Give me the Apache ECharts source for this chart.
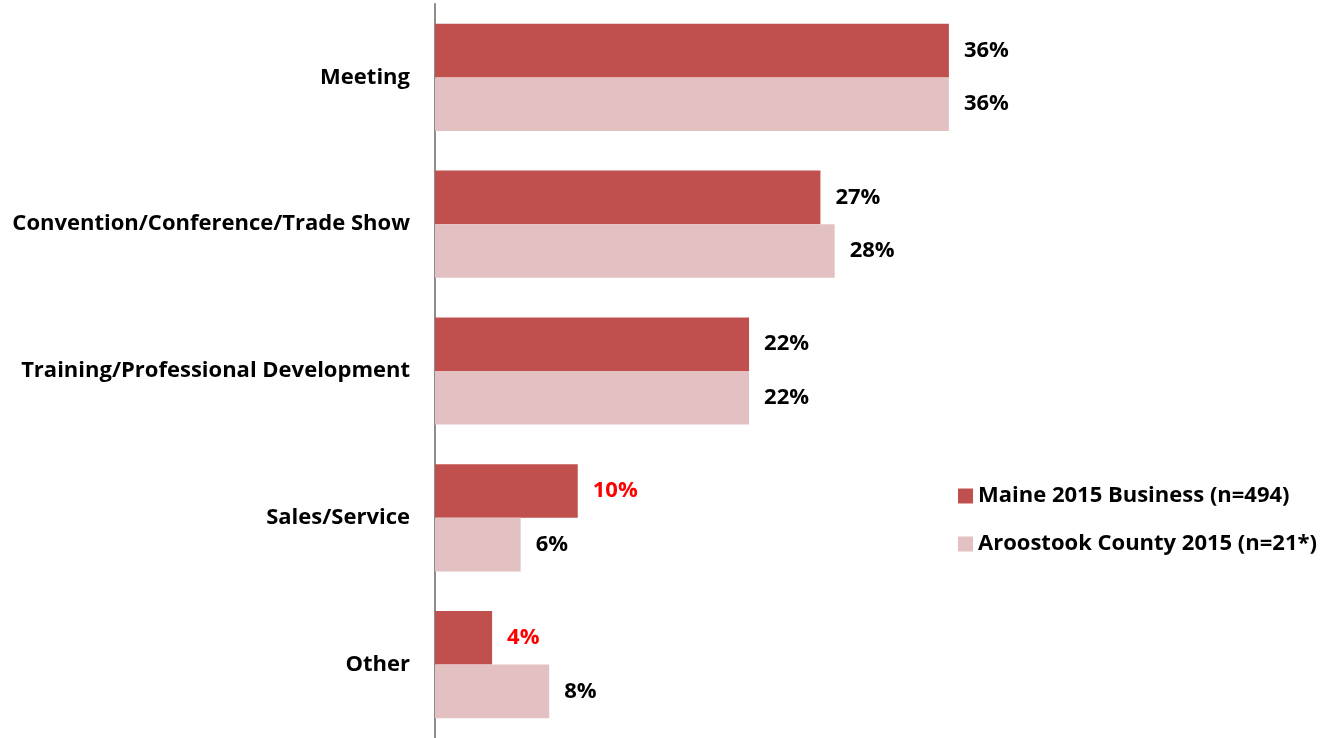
<!DOCTYPE html>
<html>
<head>
<meta charset="utf-8">
<script src="https://cdn.jsdelivr.net/npm/echarts@6/dist/echarts.min.js"></script>
<style>
  html, body { margin: 0; padding: 0; background: #fff; }
  #chart { width: 1325px; height: 738px; }
</style>
</head>
<body>
<div id="chart"></div>
<script>
// data
var categories = ['Meeting', 'Convention/Conference/Trade Show', 'Training/Professional Development', 'Sales/Service', 'Other'];
var maine = [36, 27, 22, 10, 4];
var aroostook = [36, 28, 22, 6, 8];
// Maine values flagged red in the original (significant difference)
var flagged = [3, 4];

var FONT = 'Open Sans';
var chart = echarts.init(document.getElementById('chart'));

var maineData = maine.map(function (v, i) {
    if (flagged.indexOf(i) >= 0) {
        return { value: v, label: { color: '#ff0000' } };
    }
    return v;
});

var valueLabel = {
    show: true, position: 'right', distance: 15,
    formatter: '{c}%', fontSize: 22, fontWeight: 'bold', color: '#000', fontFamily: FONT
};

chart.setOption({
    animation: false,
    textStyle: { fontFamily: FONT },
    legend: {
        orient: 'vertical',
        left: 953,
        top: 480,
        itemWidth: 15,
        itemHeight: 15,
        itemGap: 26,
        icon: 'rect',
        textStyle: { fontSize: 22, fontWeight: 'bold', color: '#000', fontFamily: FONT },
        data: ['Maine 2015 Business (n=494)', 'Aroostook County 2015 (n=21*)']
    },
    grid: { left: 435, top: 4, width: 571, height: 737 },
    xAxis: {
        type: 'value',
        min: 0,
        max: 40,
        show: false
    },
    yAxis: {
        type: 'category',
        inverse: true,
        data: categories,
        axisLine: { show: true, lineStyle: { color: '#8c8c8c', width: 2 } },
        axisTick: { show: false },
        axisLabel: {
            margin: 25,
            fontSize: 22,
            fontWeight: 'bold',
            color: '#000',
            fontFamily: FONT
        }
    },
    series: [{
        name: 'Maine 2015 Business (n=494)',
        type: 'bar',
        data: maineData,
        barGap: 0,
        barCategoryGap: '27%',
        itemStyle: { color: '#c0504d' },
        label: valueLabel
    }, {
        name: 'Aroostook County 2015 (n=21*)',
        type: 'bar',
        data: aroostook,
        barGap: 0,
        barCategoryGap: '27%',
        itemStyle: { color: '#e3c1c2' },
        label: valueLabel
    }]
});
</script>
</body>
</html>
